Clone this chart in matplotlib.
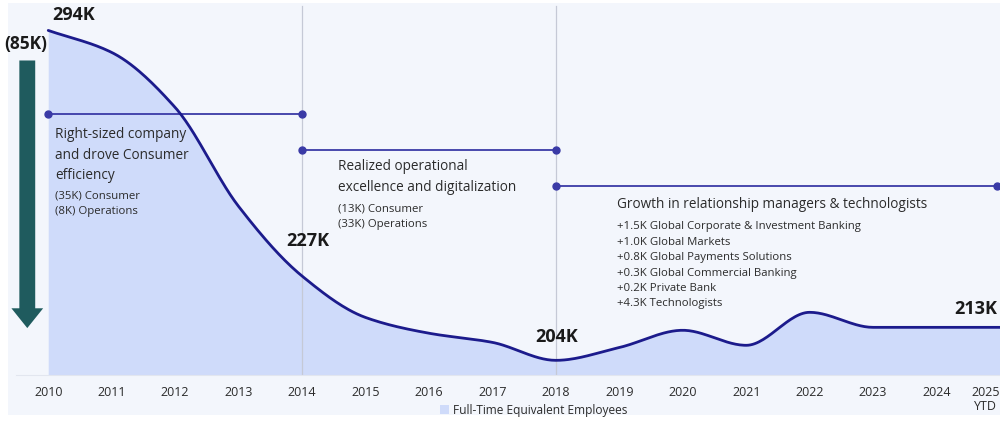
import numpy as np
import matplotlib.pyplot as plt
from matplotlib.patches import Rectangle, FancyArrow

plt.rcParams["font.family"] = ["Open Sans", "DejaVu Sans"]

# Full-time equivalent employees, thousands
years = [2010, 2011, 2012, 2013, 2014, 2015, 2016, 2017,
         2018, 2019, 2020, 2021, 2022, 2023, 2024, 2025]
fte = [294, 288, 273, 246, 227, 215.7, 211.4, 208.9,
       204, 207.5, 212.2, 208.1, 217.1, 213, 213, 213]
tick_labels = [str(y) for y in years[:-1]] + ["2025\nYTD"]

callouts = [(2010, "294K"), (2014, "227K"), (2018, "204K"), (2025, "213K")]

phase_spans = [(2010, 2014), (2014, 2018), (2018, 2025)]
phase_titles = ["Right-sized company\nand drove Consumer\nefficiency",
                "Realized operational\nexcellence and digitalization",
                "Growth in relationship managers & technologists"]
phase_details = ["(35K) Consumer\n(8K) Operations",
                 "(13K) Consumer\n(33K) Operations",
                 "+1.5K Global Corporate & Investment Banking\n"
                 "+1.0K Global Markets\n"
                 "+0.8K Global Payments Solutions\n"
                 "+0.3K Global Commercial Banking\n"
                 "+0.2K Private Bank\n"
                 "+4.3K Technologists"]
total_drop = "(85K)"

NAVY = "#1c1b8c"
BRACKET = "#3a3aa6"
FILL = "#cfdbfa"
TEXT = "#2b2b2b"


def pchip(x, y, n=30):
    # monotone cubic hermite so the flat stretches stay flat
    x = np.asarray(x, float)
    y = np.asarray(y, float)
    h = np.diff(x)
    d = np.diff(y) / h
    m = np.zeros_like(y)
    for i in range(1, len(y) - 1):
        if d[i - 1] * d[i] > 0:
            w1 = 2 * h[i] + h[i - 1]
            w2 = h[i] + 2 * h[i - 1]
            m[i] = (w1 + w2) / (w1 / d[i - 1] + w2 / d[i])
    m[0], m[-1] = d[0], d[-1]
    xs, ys = [], []
    for i in range(len(h)):
        t = np.linspace(0, 1, n, endpoint=False)
        h00 = 2 * t**3 - 3 * t**2 + 1
        h10 = t**3 - 2 * t**2 + t
        h01 = -2 * t**3 + 3 * t**2
        h11 = t**3 - t**2
        xs.append(x[i] + t * h[i])
        ys.append(h00 * y[i] + h10 * h[i] * m[i] + h01 * y[i + 1] + h11 * h[i] * m[i + 1])
    xs.append([x[-1]])
    ys.append([y[-1]])
    return np.concatenate(xs), np.concatenate(ys)


fig = plt.figure(figsize=(10, 4.21), dpi=100)
fig.patches.append(Rectangle((0.008, 0.014), 0.992, 0.979, transform=fig.transFigure,
                             facecolor="#f3f6fc", edgecolor="none", zorder=-10))

ax = fig.add_axes([0, 46 / 421, 1, 375 / 421])
ax.set_facecolor("none")
ax.set_xlim(2009.24, 2024.98)
ax.set_ylim(200, 302.3)

xs, ys = pchip(years, fte)
ax.fill_between(xs, 200, ys, color=FILL, lw=0, zorder=1, label="Full-Time Equivalent Employees")
ax.plot(xs, ys, color=NAVY, lw=2, zorder=4, solid_capstyle="round")

for yr in (2014, 2018):
    ax.axvline(yr, ymax=0.985, color="#c5c9d6", lw=0.9, zorder=2)

# phase brackets
bracket_levels = [271.1, 261.3, 251.5]
for (x0, x1), lvl in zip(phase_spans, bracket_levels):
    ax.plot([x0, x1 - 0.04 * (x1 == 2025)], [lvl, lvl], color=BRACKET, lw=1.3,
            marker="o", ms=5, zorder=3, clip_on=False)

title_kw = dict(fontsize=9.8, color=TEXT, va="top", linespacing=1.5)
detail_kw = dict(fontsize=8.2, color=TEXT, va="top", linespacing=1.55)
ax.text(2010.11, 267.6, phase_titles[0], **title_kw)
ax.text(2010.11, 250.4, phase_details[0], **detail_kw)
ax.text(2014.56, 258.8, phase_titles[1], **title_kw)
ax.text(2014.56, 246.8, phase_details[1], **detail_kw)
ax.text(2018.96, 248.6, phase_titles[2], **title_kw)
ax.text(2018.96, 241.9, phase_details[2], **detail_kw)

# value callouts
offsets = {2010: (0.06, 4.3), 2014: (-0.25, 9.5), 2018: (-0.33, 6.3), 2025: (-0.72, 4.9)}
for yr, lab in callouts:
    v = fte[years.index(yr)]
    dx, dy = offsets[yr]
    ax.text(yr + dx, v + dy, lab, fontsize=13, fontweight="bold", color="#1a1a1a",
            va="center", ha="left")

# overall reduction arrow
ax.add_patch(FancyArrow(2009.67, 285.8, 0, -285.8 + 212.8, width=0.25, head_width=0.5,
                        head_length=5.4, length_includes_head=True,
                        color="#1f5b5e", lw=0, zorder=3))
ax.text(2009.3, 290.2, total_drop, fontsize=12.5, fontweight="bold", color="#1a1a1a",
        va="center", ha="left")

ax.set_xticks(years)
ax.set_xticklabels(tick_labels, fontsize=9, color=TEXT, linespacing=1.1)
ax.get_xticklabels()[-1].set_horizontalalignment("right")
ax.get_xticklabels()[-1].set_multialignment("center")
ax.tick_params(axis="x", length=0, pad=8)
ax.set_yticks([])
for s in ("left", "right", "top"):
    ax.spines[s].set_visible(False)
ax.spines["bottom"].set_color("#e2e6ef")
ax.spines["bottom"].set_linewidth(0.8)
ax.spines["bottom"].set_bounds(2009.5, 2025)

fig.legend(loc="lower center", bbox_to_anchor=(0.534, -0.015), frameon=False, fontsize=8.6,
           handlelength=0.7, handleheight=0.7, handletextpad=0.4, labelcolor=TEXT)

fig.savefig("out.png", dpi=100)
